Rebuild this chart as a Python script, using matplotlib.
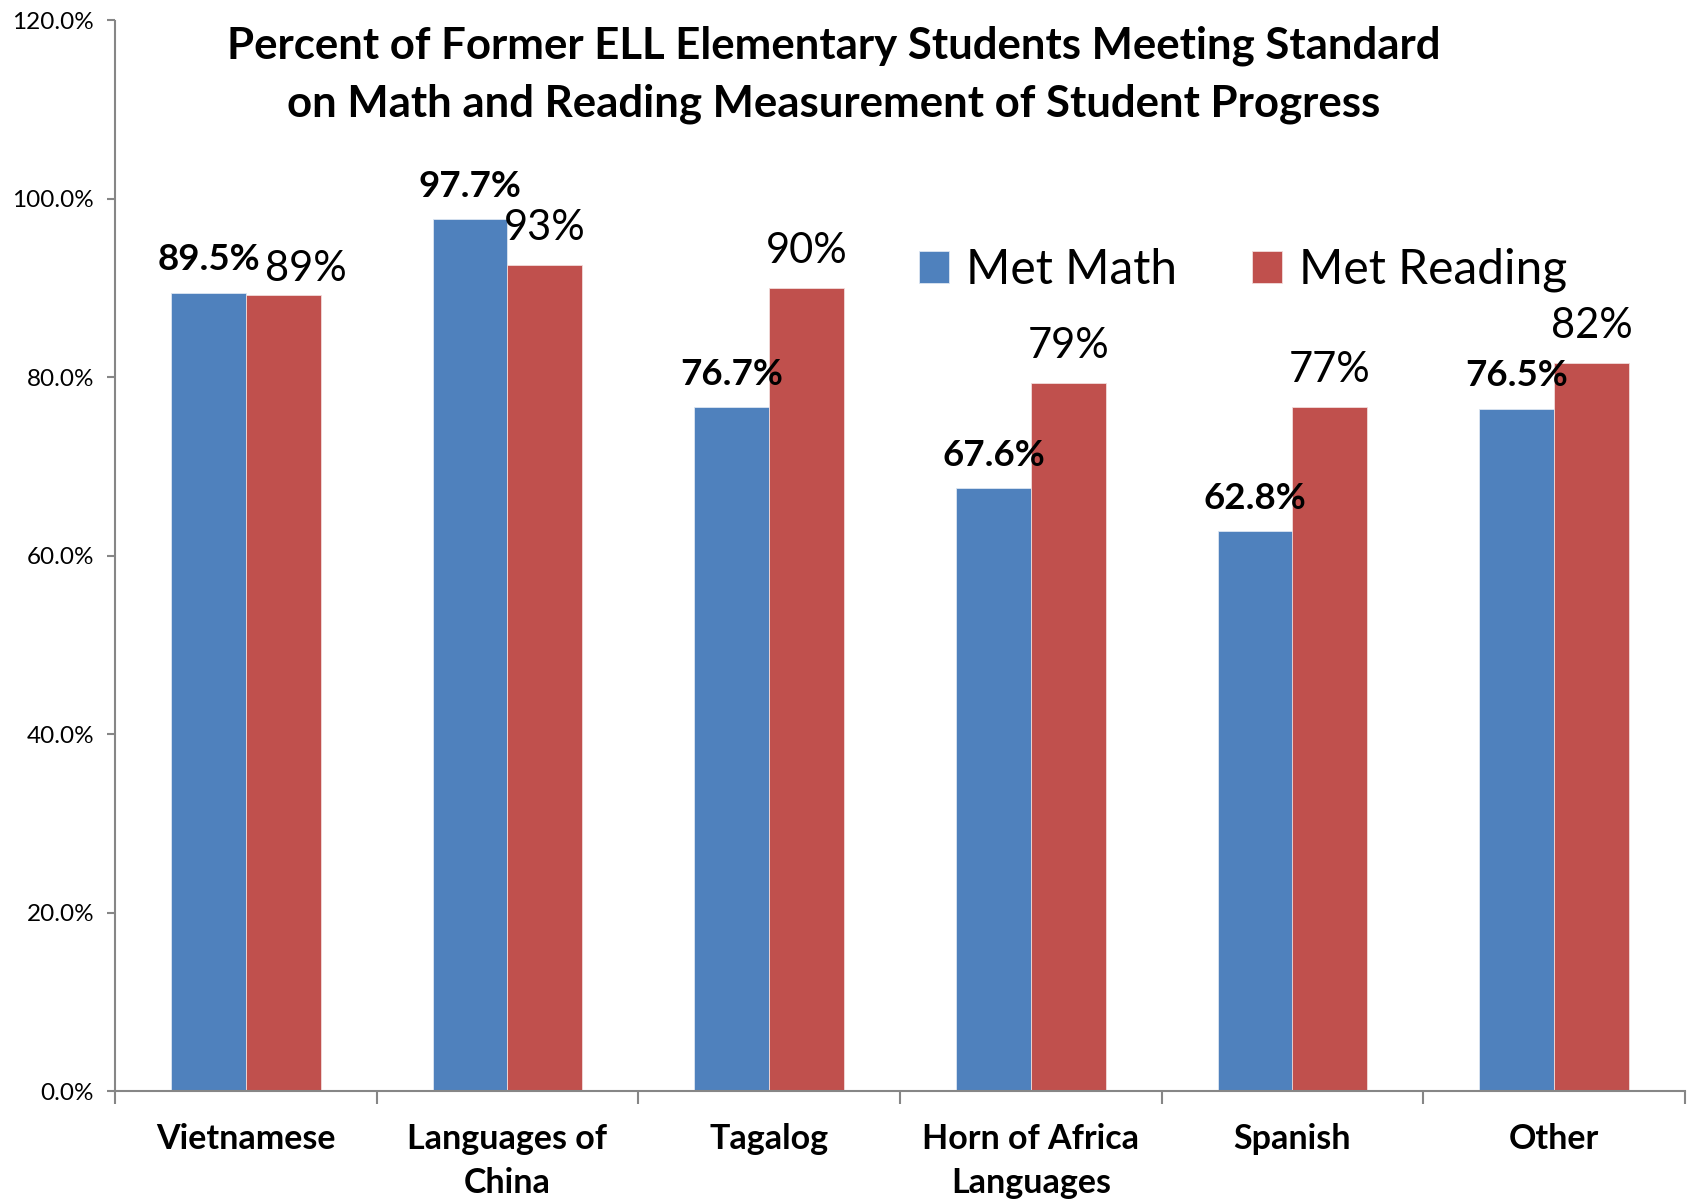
import matplotlib
matplotlib.use("Agg")
import matplotlib.pyplot as plt
import numpy as np
from matplotlib.ticker import FuncFormatter, MultipleLocator

# data
categories = ["Vietnamese", "Languages of\nChina", "Tagalog", "Horn of Africa\nLanguages", "Spanish", "Other"]
met_math = [0.895, 0.977, 0.767, 0.676, 0.628, 0.765]
met_reading = [0.892, 0.926, 0.900, 0.794, 0.767, 0.816]
series_names = ["Met Math", "Met Reading"]
title_lines = ["Percent of Former ELL Elementary Students Meeting Standard",
               "on Math and Reading Measurement of Student Progress"]

BLUE = "#4F81BD"
RED = "#C0504D"
GRAY = "#868686"

plt.rcParams['font.family'] = ['Lato', 'DejaVu Sans']

fig = plt.figure(figsize=(16.9, 12.02), dpi=100)
ax = fig.add_axes([115/1690, 1 - 1091/1202, (1685 - 115)/1690, (1091 - 20.5)/1202])

x = np.arange(len(categories))
w = 1 / 3.5
b1 = ax.bar(x - w/2, met_math, w, color=BLUE, edgecolor="#DCE6F2", linewidth=0.6, label=series_names[0])
b2 = ax.bar(x + w/2, met_reading, w, color=RED, edgecolor="#F2DCDB", linewidth=0.6, label=series_names[1])

# value labels
for xi, v in zip(x, met_math):
    ax.annotate(f"{v*100:.1f}%", (xi - w/2, v), xytext=(0, 16), textcoords="offset points",
                ha="center", va="baseline", fontsize=26.5, fontweight="bold")
for i, (xi, v) in enumerate(zip(x, met_reading)):
    dx, dy = (16, 10) if i == 0 else (0, 18)
    ax.annotate(f"{v*100:.0f}%", (xi + w/2, v), xytext=(dx, dy), textcoords="offset points",
                ha="center", va="baseline", fontsize=30)

ax.set_xlim(-0.5, len(categories) - 0.5)
ax.set_ylim(0, 1.2)
ax.yaxis.set_major_locator(MultipleLocator(0.2))
ax.yaxis.set_major_formatter(FuncFormatter(lambda v, p: f"{v*100:.1f}%"))

ax.set_xticks(x)
ax.set_xticklabels(categories, fontsize=24.5, fontweight="bold", linespacing=1.45)
ax.set_xticks(np.arange(-0.5, len(categories)), minor=True)
ax.tick_params(axis="x", which="major", length=0, pad=23)
ax.tick_params(axis="x", which="minor", length=9, width=1.5, color=GRAY, direction="out")
ax.tick_params(axis="y", length=6, width=1.5, color=GRAY, labelsize=17.5, pad=9)

for s in ["top", "right"]:
    ax.spines[s].set_visible(False)
for s in ["left", "bottom"]:
    ax.spines[s].set_color(GRAY)
    ax.spines[s].set_linewidth(1.5)

ax.legend(loc="center left", bbox_to_anchor=(919/1690, 1 - 270/1202), bbox_transform=fig.transFigure,
          ncol=2, frameon=False, fontsize=34.5, handlelength=0.63, handleheight=0.63,
          handletextpad=0.36, columnspacing=1.55, borderpad=0, borderaxespad=0)

fig.text(834/1690, 1 - 59/1202, title_lines[0], ha="center", va="baseline", fontsize=31.5, fontweight="bold")
fig.text(834/1690, 1 - 117/1202, title_lines[1], ha="center", va="baseline", fontsize=31.5, fontweight="bold")

fig.savefig("out.png", dpi=100)
